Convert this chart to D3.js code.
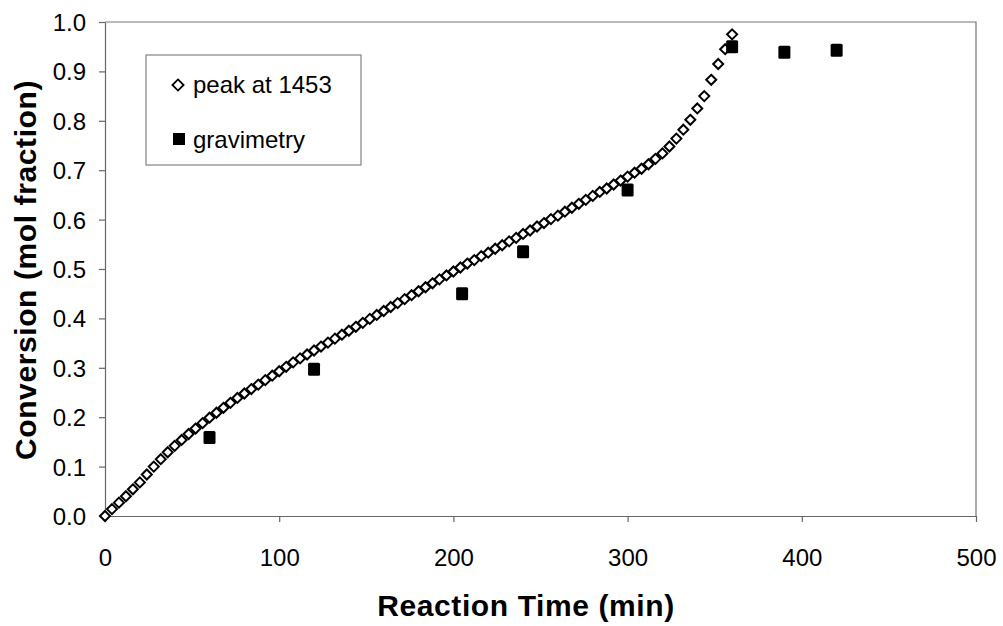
<!DOCTYPE html>
<html>
<head>
<meta charset="utf-8">
<script src="https://cdn.jsdelivr.net/npm/d3@7"></script>
<style>
  body { margin: 0; background: #fff; }
  text { font-family: "Liberation Sans", Arial, sans-serif; }
</style>
</head>
<body>
<div id="chart"></div>
<script>
// IR peak conversion, every 4 minutes
var peakTime = [0, 4, 8, 12, 16, 20, 24, 28, 32, 36, 40, 44, 48, 52, 56, 60, 64, 68, 72, 76,
  80, 84, 88, 92, 96, 100, 104, 108, 112, 116, 120, 124, 128, 132, 136, 140, 144, 148, 152, 156,
  160, 164, 168, 172, 176, 180, 184, 188, 192, 196, 200, 204, 208, 212, 216, 220, 224, 228, 232, 236,
  240, 244, 248, 252, 256, 260, 264, 268, 272, 276, 280, 284, 288, 292, 296, 300, 304, 308, 312, 316,
  320, 324, 328, 332, 336, 340, 344, 348, 352, 356, 360];
var peakConv = [0.000, 0.014, 0.027, 0.040, 0.054, 0.068, 0.084, 0.100, 0.115, 0.129, 0.142, 0.154, 0.166, 0.177, 0.188, 0.199, 0.209, 0.219, 0.229, 0.239,
  0.248, 0.257, 0.266, 0.275, 0.284, 0.293, 0.302, 0.311, 0.319, 0.327, 0.335, 0.343, 0.351, 0.359, 0.367, 0.375, 0.383, 0.391, 0.399, 0.407,
  0.415, 0.423, 0.431, 0.439, 0.447, 0.455, 0.463, 0.471, 0.479, 0.487, 0.495, 0.503, 0.511, 0.518, 0.526, 0.533, 0.541, 0.548, 0.556, 0.563,
  0.571, 0.578, 0.586, 0.593, 0.601, 0.608, 0.616, 0.624, 0.632, 0.640, 0.648, 0.656, 0.663, 0.671, 0.679, 0.687, 0.695, 0.703, 0.712, 0.723,
  0.734, 0.748, 0.764, 0.782, 0.802, 0.825, 0.850, 0.883, 0.915, 0.945, 0.975];

// gravimetric conversion
var gravTime = [60, 120, 205, 240, 300, 360, 390, 420];
var gravConv = [0.159, 0.297, 0.450, 0.535, 0.660, 0.950, 0.939, 0.943];

var xTicks = [0, 100, 200, 300, 400, 500];
var yTicks = [0, 0.1, 0.2, 0.3, 0.4, 0.5, 0.6, 0.7, 0.8, 0.9, 1.0];
var legendNames = ["peak at 1453", "gravimetry"];

(function() {
  var W = 1003, H = 626;
  var m = {left: 105, right: 976, top: 22, bottom: 516};

  var x = d3.scaleLinear().domain([0, 500]).range([m.left, m.right]);
  var y = d3.scaleLinear().domain([0, 1]).range([m.bottom, m.top]);

  var svg = d3.select("#chart").append("svg")
    .attr("width", W)
    .attr("height", H);

  // plot area frame (top and right)
  svg.append("path")
    .attr("d", "M" + m.left + "," + m.top + "H" + m.right + "V" + m.bottom)
    .attr("fill", "none")
    .attr("stroke", "#777")
    .attr("stroke-width", 1.2);

  var xAxis = d3.axisBottom(x).tickValues(xTicks).tickFormat(d3.format("d"))
    .tickSize(6).tickSizeOuter(0);
  var yAxis = d3.axisLeft(y).tickValues(yTicks).tickFormat(d3.format(".1f"))
    .tickSize(6).tickSizeOuter(0).tickPadding(13);

  var gx = svg.append("g").attr("transform", "translate(0," + m.bottom + ")").call(xAxis);
  var gy = svg.append("g").attr("transform", "translate(" + m.left + ",0)").call(yAxis);

  [gx, gy].forEach(function(g) {
    g.select(".domain").attr("stroke", "#666").attr("stroke-width", 1.2);
    g.selectAll(".tick line").attr("stroke", "#666").attr("stroke-width", 1.2);
    g.selectAll(".tick text").attr("fill", "#000").style("font-size", "24px")
      .style("font-family", "'Liberation Sans', Arial, sans-serif");
  });
  gx.selectAll(".tick text").attr("dy", 0).attr("y", 50);
  gy.selectAll(".tick text").attr("dy", "0.35em");

  // axis titles
  svg.append("text")
    .attr("x", 526).attr("y", 616)
    .attr("text-anchor", "middle")
    .style("font-size", "30px").style("font-weight", "bold")
    .style("letter-spacing", "0.6px")
    .text("Reaction Time (min)");

  svg.append("text")
    .attr("transform", "translate(36,270) rotate(-90)")
    .attr("text-anchor", "middle")
    .style("font-size", "30px").style("font-weight", "bold")
    .style("letter-spacing", "0.6px")
    .text("Conversion (mol fraction)");

  var peak = peakTime.map(function(t, i) { return {t: t, v: peakConv[i]}; });
  var grav = gravTime.map(function(t, i) { return {t: t, v: gravConv[i]}; });

  var diamond = function(r) {
    return "M0," + (-r) + "L" + r + ",0L0," + r + "L" + (-r) + ",0Z";
  };

  svg.append("g").selectAll("path")
    .data(peak)
    .enter().append("path")
    .attr("transform", function(d) { return "translate(" + x(d.t) + "," + y(d.v) + ")"; })
    .attr("d", diamond(5))
    .attr("fill", "#fff")
    .attr("stroke", "#000")
    .attr("stroke-width", 2);

  svg.append("g").selectAll("rect")
    .data(grav)
    .enter().append("rect")
    .attr("x", function(d) { return x(d.t) - 6; })
    .attr("y", function(d) { return y(d.v) - 6.5; })
    .attr("width", 12).attr("height", 13)
    .attr("rx", 1.5)
    .attr("fill", "#000");

  // legend
  var lg = svg.append("g");
  lg.append("rect")
    .attr("x", 146).attr("y", 55).attr("width", 215).attr("height", 110)
    .attr("fill", "#fff").attr("stroke", "#777").attr("stroke-width", 1.1);
  lg.append("path")
    .attr("transform", "translate(178,85)")
    .attr("d", diamond(5.6))
    .attr("fill", "#fff").attr("stroke", "#000").attr("stroke-width", 1.8);
  lg.append("rect")
    .attr("x", 173).attr("y", 133).attr("width", 12).attr("height", 12)
    .attr("fill", "#000");
  lg.selectAll("text.lbl")
    .data(legendNames)
    .enter().append("text")
    .attr("class", "lbl")
    .attr("x", 193)
    .attr("y", function(d, i) { return 93 + i * 55; })
    .style("font-size", "24px")
    .text(function(d) { return d; });
})();
</script>
</body>
</html>
